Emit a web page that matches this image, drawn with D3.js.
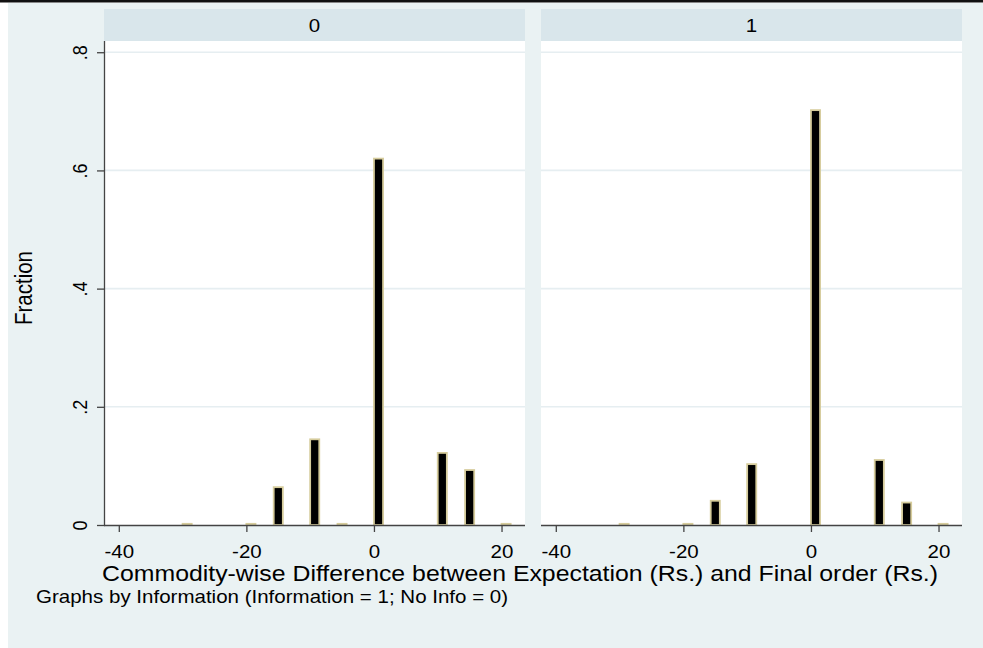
<!DOCTYPE html>
<html><head><meta charset="utf-8">
<script src="https://cdn.jsdelivr.net/npm/d3@7"></script>
<style>
body{margin:0;background:#fff}
svg{display:block}
text{font-family:"Liberation Sans",Arial,Helvetica,sans-serif;fill:#000}
</style>
</head><body>
<svg id="c" width="983" height="648"></svg>
<script>
// ---- data ----
const panels = ["0", "1"];
const diffValues = [-30, -20, -15, -10, -5, 0, 10, 15, 20];
const fraction0 = [0.002, 0.002, 0.064, 0.145, 0.002, 0.620, 0.122, 0.093, 0.002];
const fraction1 = [0.002, 0.002, 0.041, 0.103, 0.000, 0.702, 0.110, 0.038, 0.002];
const binStart = -30;
const binWidth = 10 / 7;
const xTicks = [-40, -20, 0, 20];
const yTicks = [0, 0.2, 0.4, 0.6, 0.8];
const yTickLabels = ["0", ".2", ".4", ".6", ".8"];
const xTitle = "Commodity-wise Difference between Expectation (Rs.) and Final order (Rs.)";
const yTitle = "Fraction";
const noteText = "Graphs by Information (Information = 1; No Info = 0)";

// ---- layout ----
const W = 983, H = 648, SX = 1.14;
const svg = d3.select("#c");
const panelX0 = [104, 541], panelW = 421;
const plotTop = 41, plotBottom = 525, headTop = 9;
const seriesAll = [fraction0, fraction1];

svg.append("rect").attr("x", 0).attr("y", 0).attr("width", W).attr("height", H).attr("fill", "#fff");
svg.append("rect").attr("x", 8).attr("y", 3).attr("width", W - 8).attr("height", H - 3).attr("fill", "#eaf2f3");
svg.append("rect").attr("x", 0).attr("y", 0).attr("width", W).attr("height", 2.5).attr("fill", "#111");

const y = d3.scaleLinear().domain([0, 0.819]).range([plotBottom, plotTop]);

panels.forEach((p, i) => {
  const x0 = panelX0[i];
  const x = d3.scaleLinear().domain([-42.32, 23.68]).range([x0, x0 + panelW]);
  const g = svg.append("g");
  // header
  g.append("rect").attr("x", x0).attr("y", headTop).attr("width", panelW).attr("height", plotTop - headTop).attr("fill", "#d9e6eb");
  g.append("text").attr("transform", `translate(${x0 + panelW / 2},31.5) scale(${SX},1)`)
    .attr("text-anchor", "middle").attr("font-size", 18).text(p);
  // plot area
  g.append("rect").attr("x", x0).attr("y", plotTop).attr("width", panelW).attr("height", plotBottom - plotTop).attr("fill", "#fff");
  // grid
  g.selectAll(".grid").data(yTicks.filter(t => t > 0)).join("line")
    .attr("x1", x0).attr("x2", x0 + panelW).attr("y1", d => y(d)).attr("y2", d => y(d))
    .attr("stroke", "#e6eef1").attr("stroke-width", 1.6);
  // bars
  const bins = diffValues.map((v, k) => {
    const idx = Math.floor((v - binStart) / binWidth + 1e-9);
    return { x: binStart + idx * binWidth, f: seriesAll[i][k] };
  }).filter(d => d.f > 0);
  g.selectAll(".bar").data(bins).join("rect")
    .attr("x", d => x(d.x)).attr("width", d => x(d.x + binWidth) - x(d.x))
    .attr("y", d => y(d.f)).attr("height", d => y(0) - y(d.f))
    .attr("fill", "#000").attr("stroke", "#d6cc9c").attr("stroke-width", 1.8);
  // x axis
  const ax = g.append("g").attr("transform", `translate(0,${plotBottom})`)
    .call(d3.axisBottom(x).tickValues(xTicks).tickSize(7).tickSizeOuter(0).tickFormat(d3.format("d")));
  ax.select(".domain").attr("stroke", "#444").attr("stroke-width", 1.3)
    .attr("d", `M${x0},0.5H${x0 + panelW}`);
  ax.selectAll(".tick line").attr("stroke", "#444").attr("stroke-width", 1.3);
  ax.selectAll(".tick text").attr("y", 0).attr("dy", 0)
    .attr("transform", `translate(0,32.5) scale(${SX},1)`)
    .attr("font-size", 18).attr("fill", "#000").attr("font-family", null)
    .text(d => d < 0 ? "-" + Math.abs(d) : d);
  if (i === 0) {
    const ay = g.append("g").attr("transform", `translate(${x0 + 1},0)`)
      .call(d3.axisLeft(y).tickValues(yTicks).tickSize(8).tickSizeOuter(0).tickFormat((d, k) => yTickLabels[k]));
    ay.select(".domain").attr("stroke", "#444").attr("stroke-width", 1.3)
      .attr("d", `M-0.5,${plotTop}V${plotBottom}`);
    ay.selectAll(".tick line").attr("stroke", "#444").attr("stroke-width", 1.3);
    ay.selectAll(".tick text").attr("x", 0).attr("dy", 0)
      .attr("transform", `translate(-18,0) scale(${SX},1) rotate(-90)`)
      .attr("text-anchor", "middle").attr("font-size", 18).attr("fill", "#000").attr("font-family", null);
  }
  g.selectAll(".domain, .tick line").attr("fill", "none");
});

svg.selectAll("g[font-family]").attr("font-family", null).attr("font-size", null);

svg.append("text").attr("transform", `translate(520,581) scale(${SX},1)`)
  .attr("text-anchor", "middle").attr("font-size", 21.8).text(xTitle);
svg.append("text").attr("transform", `translate(32,288) scale(${SX},1) rotate(-90)`)
  .attr("text-anchor", "middle").attr("font-size", 20.5).text(yTitle);
svg.append("text").attr("transform", `translate(36,603) scale(${SX},1)`)
  .attr("text-anchor", "start").attr("font-size", 18).text(noteText);
</script>
</body></html>
